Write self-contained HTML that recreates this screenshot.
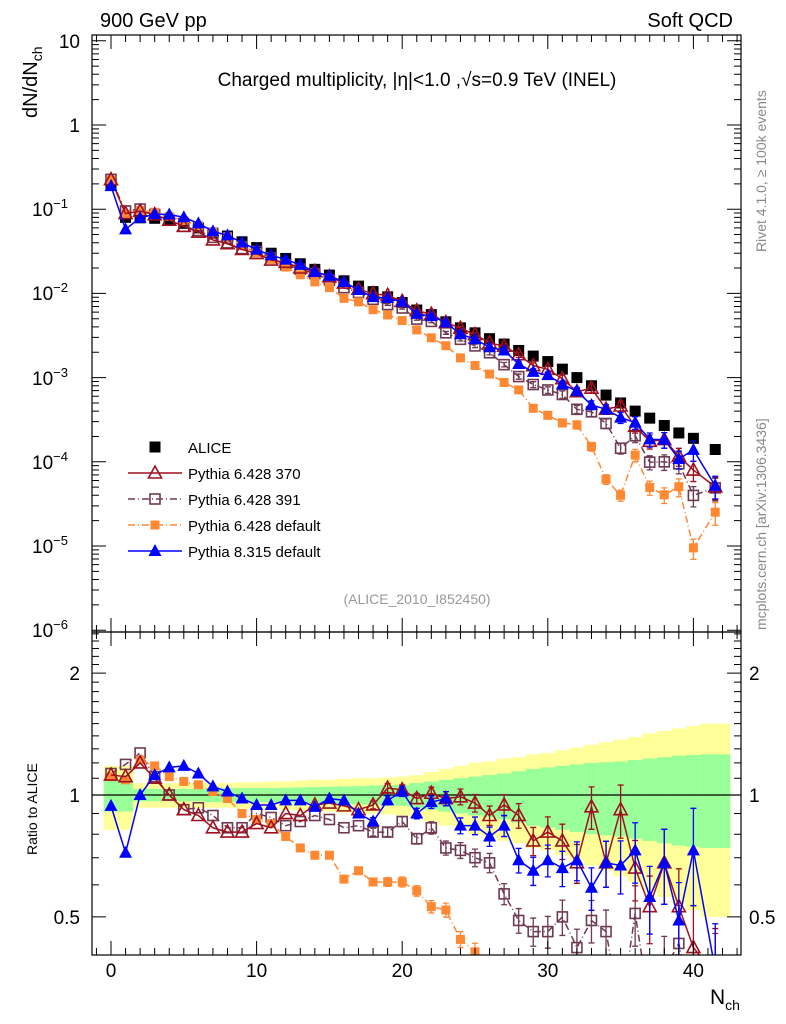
<!DOCTYPE html>
<html><head><meta charset="utf-8"><style>
html,body{margin:0;padding:0;background:#fff;width:786px;height:1024px;overflow:hidden;}
svg{display:block;font-family:"Liberation Sans",sans-serif;}
</style></head><body>
<svg id="c" width="786" height="1024" viewBox="0 0 786 1024" xmlns="http://www.w3.org/2000/svg">
<text x="100" y="27" font-size="20">900 GeV pp</text>
<text x="733" y="27" font-size="20" text-anchor="end">Soft QCD</text>
<text x="417" y="86" font-size="19" text-anchor="middle">Charged multiplicity, |η|&lt;1.0 ,√s=0.9 TeV (INEL)</text>
<text transform="translate(37,118) rotate(-90)" font-size="20">dN/dN<tspan font-size="14" dy="5">ch</tspan></text>
<text transform="translate(37,855) rotate(-90)" font-size="14">Ratio to ALICE</text>
<text x="710" y="1004" font-size="21">N<tspan font-size="14" dy="6">ch</tspan></text>
<text transform="translate(766,252) rotate(-90)" font-size="14" fill="#888">Rivet 4.1.0, ≥ 100k events</text>
<text transform="translate(766,630) rotate(-90)" font-size="14" fill="#888">mcplots.cern.ch [arXiv:1306.3436]</text>
<text x="417" y="604" font-size="14" fill="#999" text-anchor="middle">(ALICE_2010_I852450)</text>
<g id="g"></g>
</svg>
<script>
const nVals=[0,1,2,3,4,5,6,7,8,9,10,11,12,13,14,15,16,17,18,19,20,21,22,23,24,25,26,27,28,29,30,31,32,33,34,35,36,37,38,39,40,41.5];
const alice=[0.20,0.08,0.079,0.078,0.074,0.068,0.06,0.052,0.048,0.041,0.035,0.030,0.026,0.0225,0.0193,0.0165,0.0141,0.0122,0.0105,0.0091,0.0078,0.00635,0.0056,0.0046,0.0039,0.0034,0.0029,0.0025,0.0021,0.0018,0.00155,0.00126,0.0010,0.0008,0.00062,0.0005,0.0004,0.00033,0.00027,0.00022,0.00019,0.00014];
const ratio370=[1.12,1.11,1.2,1.1,1.0,0.92,0.89,0.83,0.81,0.81,0.85,0.83,0.9,0.89,0.945,0.955,0.94,0.92,0.945,1.04,1.03,0.98,1.01,0.98,0.99,0.955,0.89,0.945,0.89,0.77,0.81,0.77,0.68,0.935,0.68,0.92,0.66,0.53,0.68,0.53,0.42,0.36];
const ratio391=[1.13,1.19,1.27,1.11,1.0,0.92,0.93,0.89,0.83,0.83,0.9,0.88,0.84,0.86,0.89,0.87,0.83,0.84,0.81,0.81,0.86,0.78,0.83,0.74,0.73,0.7,0.68,0.57,0.49,0.46,0.46,0.5,0.42,0.49,0.46,0.29,0.51,0.3,0.37,0.43,0.21,0.35];
const ratioDef=[1.11,1.09,1.22,1.18,1.11,1.08,1.06,1.02,0.98,0.9,0.87,0.85,0.79,0.74,0.71,0.71,0.62,0.65,0.61,0.61,0.61,0.58,0.53,0.52,0.44,0.41,0.38,0.35,0.34,0.24,0.23,0.23,0.275,0.19,0.1,0.08,0.3,0.15,0.15,0.23,0.05,0.18];
const ratioP8=[0.94,0.72,1.0,1.12,1.17,1.18,1.13,1.05,1.02,0.98,0.945,0.945,0.97,0.97,0.935,0.98,0.97,0.9,0.86,0.97,1.02,0.9,0.96,0.98,0.84,0.84,0.79,0.84,0.69,0.65,0.69,0.66,0.69,0.59,0.68,0.67,0.73,0.56,0.68,0.49,0.73,0.37];
const bandOuter=[0.18,0.18,0.07,0.07,0.07,0.07,0.07,0.07,0.07,0.075,0.075,0.08,0.08,0.085,0.09,0.09,0.095,0.1,0.1,0.105,0.11,0.12,0.14,0.16,0.18,0.2,0.21,0.23,0.24,0.26,0.27,0.29,0.31,0.33,0.35,0.37,0.39,0.42,0.44,0.46,0.48,0.5];
const bandInner=[0.09,0.09,0.035,0.035,0.035,0.035,0.035,0.04,0.04,0.04,0.04,0.04,0.042,0.044,0.046,0.048,0.05,0.052,0.055,0.058,0.06,0.07,0.08,0.09,0.1,0.11,0.12,0.13,0.145,0.16,0.17,0.18,0.19,0.2,0.205,0.21,0.22,0.23,0.24,0.25,0.255,0.26];
const mcErr=[0.01,0.01,0.01,0.01,0.01,0.01,0.01,0.01,0.01,0.01,0.01,0.012,0.012,0.014,0.015,0.016,0.018,0.02,0.022,0.025,0.028,0.03,0.035,0.04,0.045,0.05,0.055,0.06,0.07,0.08,0.09,0.1,0.11,0.12,0.13,0.15,0.17,0.19,0.21,0.24,0.27,0.3];
const binLo=[-0.5,0.5,1.5,2.5,3.5,4.5,5.5,6.5,7.5,8.5,9.5,10.5,11.5,12.5,13.5,14.5,15.5,16.5,17.5,18.5,19.5,20.5,21.5,22.5,23.5,24.5,25.5,26.5,27.5,28.5,29.5,30.5,31.5,32.5,33.5,34.5,35.5,36.5,37.5,38.5,39.5,40.5];
const binHi=[0.5,1.5,2.5,3.5,4.5,5.5,6.5,7.5,8.5,9.5,10.5,11.5,12.5,13.5,14.5,15.5,16.5,17.5,18.5,19.5,20.5,21.5,22.5,23.5,24.5,25.5,26.5,27.5,28.5,29.5,30.5,31.5,32.5,33.5,34.5,35.5,36.5,37.5,38.5,39.5,40.5,42.5];

const NS="http://www.w3.org/2000/svg";
const g=document.getElementById('g');
const L=92,R=741,T=35,MB=632,RB=955;
const X=n=>111+14.56*n;
const YM=v=>Math.min(MB+15,Math.max(T-15,125-84.2*Math.log10(v)));
const YR=r=>Math.min(RB+60,Math.max(MB-17,795-405*Math.log10(r)));
function el(t,a,p){const e=document.createElementNS(NS,t);for(const k in a)e.setAttribute(k,a[k]);(p||g).appendChild(e);return e;}
const defs=el('defs',{});
const c1=el('clipPath',{id:'cm'},defs);el('rect',{x:L,y:T,width:R-L,height:MB-T},c1);
const c2=el('clipPath',{id:'cr'},defs);el('rect',{x:L,y:MB,width:R-L,height:RB-MB},c2);
const gm=el('g',{'clip-path':'url(#cm)'});


const gr=el('g',{'clip-path':'url(#cr)'});



for(let i=0;i<nVals.length;i++){
  const x0=X(binLo[i]),x1=X(binHi[i]);
  const b=el('rect',{x:x0,y:YR(1+bandOuter[i]),width:x1-x0+0.5,height:YR(1-bandOuter[i])-YR(1+bandOuter[i]),fill:'#ffff99'},gr);
  
  
  const b2=el('rect',{x:x0,y:YR(1+bandInner[i]),width:x1-x0+0.5,height:YR(1-bandInner[i])-YR(1+bandInner[i]),fill:'#99ff99'},gr);
  
  
}
const ul=el('line',{x1:L,x2:R,y1:YR(1),y2:YR(1),stroke:'#000','stroke-width':1.2},gr);



function marker(par,type,x,y,col){
  let m;
  if(type==='sq') m=el('rect',{x:x-5.5,y:y-5.5,width:11,height:11,fill:col},par);
  else if(type==='osq') m=el('rect',{x:x-5,y:y-5,width:10,height:10,fill:'none',stroke:col,'stroke-width':1.6},par);
  else if(type==='fsq') m=el('rect',{x:x-4.5,y:y-4.5,width:9,height:9,fill:col},par);
  else if(type==='otri') m=el('path',{d:`M${x},${y-7}L${x+6.5},${y+5}L${x-6.5},${y+5}Z`,fill:'none',stroke:col,'stroke-width':1.6},par);
  else m=el('path',{d:`M${x},${y-7}L${x+6.5},${y+5}L${x-6.5},${y+5}Z`,fill:col},par);
  return m;
}
const series=[
 {r:ratio391,col:'#6e3a52',type:'osq',dash:'7,3,1,3',name:'pythia-6428-391'},
 {r:ratioDef,col:'#ff8833',type:'fsq',dash:'7,3,1,3',name:'pythia-6428-default'},
 {r:ratio370,col:'#a0101e',type:'otri',dash:'',name:'pythia-6428-370'},
 {r:ratioP8,col:'#0000ff',type:'tri',dash:'',name:'pythia-8315-default'}
];
for(let i=0;i<nVals.length;i++){
  const m=marker(gm,'sq',X(nVals[i]),YM(alice[i]),'#000');
  
  
}
for(const s of series){
  let pm='',pr='';
  for(let i=0;i<nVals.length;i++){
    const x=X(nVals[i]),v=alice[i]*s.r[i];
    pm+=(i?'L':'M')+x+','+YM(v);pr+=(i?'L':'M')+x+','+YR(s.r[i]);
  }
  const a={fill:'none',stroke:s.col,'stroke-width':1.5};if(s.dash)a['stroke-dasharray']=s.dash;
  const l1=el('path',Object.assign({d:pm},a),gm);
  
  
  const l2=el('path',Object.assign({d:pr},a),gr);
  
  
  for(let i=0;i<nVals.length;i++){
    const x=X(nVals[i]),v=alice[i]*s.r[i],e=mcErr[i];
    if(e>0.02){
      el('path',{d:`M${x},${YM(v*(1+e))}V${YM(v*Math.max(1-e,0.05))}M${x-3},${YM(v*(1+e))}h6M${x-3},${YM(v*Math.max(1-e,0.05))}h6`,stroke:s.col,'stroke-width':1.3,fill:'none'},gm);
      const r=s.r[i];
      el('path',{d:`M${x},${YR(r*(1+e))}V${YR(r*(1-e))}M${x-3},${YR(r*(1+e))}h6M${x-3},${YR(r*(1-e))}h6`,stroke:s.col,'stroke-width':1.3,fill:'none'},gr);
    }
    const m1=marker(gm,s.type,x,YM(v),s.col);
    
    
    const m2=marker(gr,s.type,x,YR(s.r[i]),s.col);
    
    
  }
}
const f1=el('rect',{x:L,y:T,width:R-L,height:MB-T,fill:'none',stroke:'#000','stroke-width':1.2});


const f2=el('rect',{x:L,y:MB,width:R-L,height:RB-MB,fill:'none',stroke:'#000','stroke-width':1.2});


let tk='';
for(let d=-6;d<=1;d++){for(let k=1;k<10;k++){const v=k*Math.pow(10,d);const y=125-84.2*Math.log10(v);if(y<T||y>MB)continue;const w=k===1?14:7;tk+=`M${L},${y}h${w}M${R},${y}h${-w}`;}}
for(let r=0.4;r<2.55;r+=0.1){const y=795-405*Math.log10(r);if(y<MB||y>RB)continue;const maj=Math.abs(r-0.5)<1e-6||Math.abs(r-1)<1e-6||Math.abs(r-2)<1e-6;const w=maj?14:7;tk+=`M${L},${y}h${w}M${R},${y}h${-w}`;}
for(let n=-1;n<=43;n++){const x=X(n);if(x<L||x>R)continue;const w=n%10===0?14:7;tk+=`M${x},${MB}v${-w}M${x},${RB}v${-w}M${x},${T}v${w}M${x},${MB}v${w}`;}
const tp=el('path',{d:tk,stroke:'#000','stroke-width':1,fill:'none'});


const yl=[['10',41,''],['1',125,''],['10',209,'−1'],['10',293,'−2'],['10',378,'−3'],['10',462,'−4'],['10',546,'−5'],['10',630,'−6']];
for(const [b,y,e] of yl){
  const t=el('text',{x:e?68:80,y:y+7,'font-size':19,'text-anchor':'end'});
  
  
  t.textContent=b;
  if(e){const s=el('tspan',{'font-size':13,dy:-8},t);s.textContent=e;}
}
for(const [s,r] of [['2',2],['1',1],['0.5',0.5]]){
  for(const [x,a] of [[80,'end'],[749,'start']]){
    const t=el('text',{x:x,y:YR(r)+7,'font-size':19,'text-anchor':a});
    
    
    t.textContent=s;
  }
}
for(let n=0;n<=40;n+=10){
  const t=el('text',{x:X(n),y:977,'font-size':19,'text-anchor':'middle'});
  
  
  t.textContent=n;
}
const leg=[['ALICE','sq','#000',''],['Pythia 6.428 370','otri','#a0101e',''],['Pythia 6.428 391','osq','#6e3a52','7,3,1,3'],['Pythia 6.428 default','fsq','#ff8833','7,3,1,3'],['Pythia 8.315 default','tri','#0000ff','']];
leg.forEach((l,i)=>{
  const y=447+26*i;
  const lg=el('g',{});
  
  
  if(i>0){const a={x1:128,x2:182,y1:y,y2:y,stroke:l[2],'stroke-width':1.5};if(l[3])a['stroke-dasharray']=l[3];el('line',a,lg);}
  marker(lg,l[1],155,y,l[2]);
  const t=el('text',{x:188,y:y+6,'font-size':15},lg);t.textContent=l[0];
});
</script>
</body></html>
